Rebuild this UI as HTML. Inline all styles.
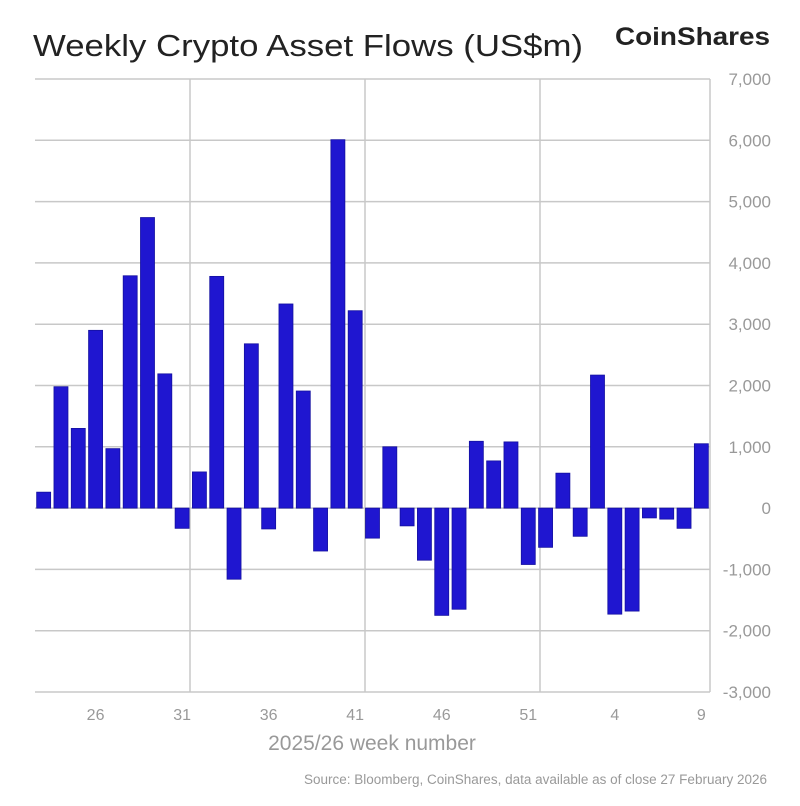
<!DOCTYPE html>
<html><head><meta charset="utf-8"><style>
body{margin:0;background:#fff;}
svg text{font-family:"Liberation Sans",Arial,sans-serif;}
</style></head><body>
<svg width="800" height="801" viewBox="0 0 800 801" xmlns="http://www.w3.org/2000/svg">
<text x="33" y="56" font-size="31" fill="#222" textLength="550" lengthAdjust="spacingAndGlyphs">Weekly Crypto Asset Flows (US$m)</text>
<text x="615" y="45" font-size="25" font-weight="bold" fill="#222" textLength="155" lengthAdjust="spacingAndGlyphs">CoinShares</text>
<g id="grid" stroke="#c8c8c8" stroke-width="1.5" fill="none"></g>
<g id="bars"></g>
<g id="labels" font-size="16" fill="#999"></g>
<text x="372" y="750" font-size="21" fill="#999" text-anchor="middle">2025/26 week number</text>
<text x="767" y="784" font-size="13.5" fill="#999" text-anchor="end">Source: Bloomberg, CoinShares, data available as of close 27 February 2026</text>
</svg>
<script>
(function(){
const ns="http://www.w3.org/2000/svg";
function el(p,t,a,txt){const e=document.createElementNS(ns,t);for(const k in a)e.setAttribute(k,a[k]);if(txt!==undefined)e.textContent=txt;document.getElementById(p).appendChild(e);}
const T=79,u=61.3,zero=T+7*u,L=35,R=710;
function fmt(n){const s=Math.abs(n).toString();const r=s.length>3?s.slice(0,-3)+','+s.slice(-3):s;return (n<0?'-':'')+r;}
for(let v=7;v>=-3;v--){const y=T+(7-v)*u;if(v!==0)el('grid','line',{x1:L,x2:R,y1:y,y2:y});
el('labels','text',{x:771,y:y+6,'text-anchor':'end','font-size':17},fmt(v*1000));}
[190,365,540,R].forEach(x=>el('grid','line',{x1:x,x2:x,y1:T,y2:T+10*u}));
const vals=[260,1980,1300,2900,970,3790,4740,2190,-330,590,3780,-1160,2680,-340,3330,1910,-700,6010,3220,-490,1000,-290,-850,-1750,-1650,1090,770,1080,-920,-640,570,-460,2170,-1730,-1680,-160,-180,-330,1050];
const w=(R-L)/39;
vals.forEach((v,i)=>{const cx=L+w*(i+0.5),h=Math.abs(v)/1000*u;const y=v>0?zero-h:zero;
el('bars','rect',{x:cx-7,y:y,width:14,height:h,fill:'#1f16d0',stroke:'#1410a0','stroke-width':0.8});});
el('grid','line',{x1:L,x2:R,y1:zero,y2:zero});
[[3,'26'],[8,'31'],[13,'36'],[18,'41'],[23,'46'],[28,'51'],[33,'4'],[38,'9']].forEach(([i,t])=>{
el('labels','text',{x:L+w*(i+0.5),y:720,'text-anchor':'middle'},t);});
})();
</script>
</body></html>
